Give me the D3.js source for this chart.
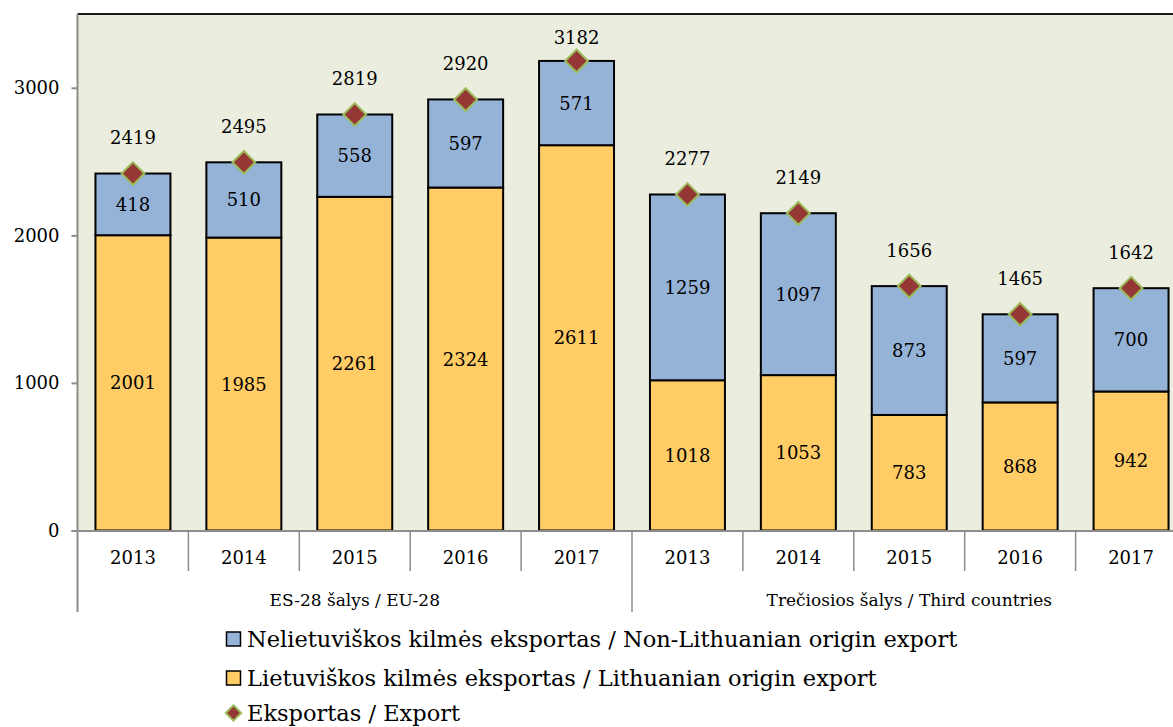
<!DOCTYPE html>
<html lang="lt">
<head>
    <meta charset="UTF-8">
    <title>Eksportas</title>
    <script src="https://d3js.org/d3.v7.min.js"></script>
    <style>
        body {
            margin: 0;
            background-color: #ffffff;
            overflow: hidden;
        }
        svg text {
            font-family: "DejaVu Serif", serif;
            fill: #000000;
        }
    </style>
</head>
<body>
    <div id="chart"></div>

    <script>
        // Duomenys
        const groups = ["ES-28 šalys / EU-28", "Trečiosios šalys / Third countries"];
        const years = ["2013", "2014", "2015", "2016", "2017"];
        const lithuanian = [2001, 1985, 2261, 2324, 2611, 1018, 1053, 783, 868, 942];
        const nonLithuanian = [418, 510, 558, 597, 571, 1259, 1097, 873, 597, 700];
        const totalExport = [2419, 2495, 2819, 2920, 3182, 2277, 2149, 1656, 1465, 1642];
        const yTicks = [0, 1000, 2000, 3000];
        const legendLabels = [
            "Nelietuviškos kilmės eksportas / Non-Lithuanian origin export",
            "Lietuviškos kilmės eksportas / Lithuanian origin export",
            "Eksportas / Export"
        ];

        const width = 1173;
        const height = 727;
        const plotLeft = 77.5;
        const plotRight = 1186.5;
        const plotTop = 14;
        const plotBottom = 530.5;

        const colBlue = "#95b3d7";
        const colOrange = "#ffcc66";
        const colMarker = "#953735";
        const colMarkerEdge = "#9bbb59";
        const colAxis = "#8c8c8c";

        // Kategorijos
        const cats = [];
        groups.forEach((g, gi) => years.forEach((yr) => cats.push({
            key: gi + "-" + yr, group: gi, year: yr
        })));
        const rows = cats.map((c, i) => ({
            ...c,
            lt: lithuanian[i],
            nonLt: nonLithuanian[i],
            total: totalExport[i]
        }));

        const svg = d3.select("#chart")
            .append("svg")
            .attr("width", width)
            .attr("height", height);

        const x = d3.scaleBand()
            .domain(cats.map(d => d.key))
            .range([plotLeft, plotRight])
            .paddingInner(0.324)
            .paddingOuter(0.162);

        const y = d3.scaleLinear()
            .domain([0, 3500])
            .range([plotBottom, plotTop]);

        const step = x.step();

        // Fonas
        svg.append("rect")
            .attr("x", plotLeft)
            .attr("y", plotTop)
            .attr("width", plotRight - plotLeft)
            .attr("height", plotBottom - plotTop)
            .attr("fill", "#ebeedf");

        // Viršutinė riba
        svg.append("line")
            .attr("x1", plotLeft).attr("x2", plotRight)
            .attr("y1", plotTop).attr("y2", plotTop)
            .attr("stroke", "#1a1a1a")
            .attr("stroke-width", 2);

        // Y ašis
        const yAxis = svg.append("g")
            .attr("transform", `translate(${plotLeft},0)`)
            .call(d3.axisLeft(y).tickValues(yTicks).tickSize(6).tickPadding(12).tickFormat(d3.format("d")));
        yAxis.select(".domain").remove();
        yAxis.selectAll(".tick line").attr("stroke", colAxis).attr("stroke-width", 2);
        yAxis.selectAll(".tick text")
            .attr("font-size", "18px")
            .style("font-family", "'DejaVu Serif', serif");

        svg.append("line")
            .attr("x1", plotLeft).attr("x2", plotLeft)
            .attr("y1", plotTop).attr("y2", 612)
            .attr("stroke", colAxis)
            .attr("stroke-width", 2);

        // Stulpeliai
        const stack = d3.stack().keys(["lt", "nonLt"])(rows);
        const colors = { lt: colOrange, nonLt: colBlue };

        stack.forEach(layer => {
            svg.append("g")
                .selectAll("rect")
                .data(layer)
                .enter()
                .append("rect")
                .attr("x", d => x(d.data.key))
                .attr("y", d => y(d[1]))
                .attr("width", x.bandwidth())
                .attr("height", d => y(d[0]) - y(d[1]))
                .attr("fill", colors[layer.key])
                .attr("stroke", "#000000")
                .attr("stroke-width", 2);

            svg.append("g")
                .selectAll("text")
                .data(layer)
                .enter()
                .append("text")
                .attr("x", d => x(d.data.key) + x.bandwidth() / 2)
                .attr("y", d => (y(d[0]) + y(d[1])) / 2)
                .attr("dy", "0.36em")
                .attr("text-anchor", "middle")
                .attr("font-size", "18px")
                .text(d => d.data[layer.key]);
        });

        // X ašis
        svg.append("line")
            .attr("x1", plotLeft - 6).attr("x2", plotRight)
            .attr("y1", plotBottom + 0.5).attr("y2", plotBottom + 0.5)
            .attr("stroke", colAxis)
            .attr("stroke-width", 2);

        svg.append("g")
            .selectAll("line")
            .data(cats.filter((d, i) => i > 0))
            .enter()
            .append("line")
            .attr("x1", d => x(d.key) - step * x.paddingInner() / 2)
            .attr("x2", d => x(d.key) - step * x.paddingInner() / 2)
            .attr("y1", plotBottom)
            .attr("y2", d => d.year === years[0] ? 612 : 571)
            .attr("stroke", colAxis)
            .attr("stroke-width", 1.5);

        svg.append("g")
            .selectAll("text")
            .data(cats)
            .enter()
            .append("text")
            .attr("x", d => x(d.key) + x.bandwidth() / 2)
            .attr("y", 558)
            .attr("dy", "0.36em")
            .attr("text-anchor", "middle")
            .attr("font-size", "18px")
            .text(d => d.year);

        svg.append("g")
            .selectAll("text")
            .data(groups)
            .enter()
            .append("text")
            .attr("x", (d, gi) => {
                const first = x(gi + "-" + years[0]) - step * x.paddingInner() / 2;
                return first + step * years.length / 2;
            })
            .attr("y", 600)
            .attr("dy", "0.36em")
            .attr("text-anchor", "middle")
            .attr("font-size", "17px")
            .text(d => d);

        // Eksporto taškai
        const diamond = d3.symbol().type(d3.symbolDiamond2).size(330);

        svg.append("g")
            .selectAll("path")
            .data(rows)
            .enter()
            .append("path")
            .attr("d", diamond)
            .attr("transform", d => `translate(${x(d.key) + x.bandwidth() / 2},${y(d.total)})`)
            .attr("fill", colMarker)
            .attr("stroke", colMarkerEdge)
            .attr("stroke-width", 2);

        svg.append("g")
            .selectAll("text")
            .data(rows)
            .enter()
            .append("text")
            .attr("x", d => x(d.key) + x.bandwidth() / 2)
            .attr("y", d => Math.max(y(d.total) - 36, plotTop + 24))
            .attr("dy", "0.36em")
            .attr("text-anchor", "middle")
            .attr("font-size", "18px")
            .text(d => d.total);

        // Legenda
        const legend = svg.append("g").attr("transform", "translate(226,0)");
        const legendY = [639, 678, 713];
        const legendFills = [colBlue, colOrange];

        legendLabels.forEach((label, i) => {
            if (i < 2) {
                legend.append("rect")
                    .attr("x", 0.5)
                    .attr("y", legendY[i] - 7)
                    .attr("width", 14)
                    .attr("height", 14)
                    .attr("fill", legendFills[i])
                    .attr("stroke", "#000000")
                    .attr("stroke-width", 1.5);
            } else {
                legend.append("path")
                    .attr("d", d3.symbol().type(d3.symbolDiamond2).size(150)())
                    .attr("transform", `translate(7.5,${legendY[i]})`)
                    .attr("fill", colMarker)
                    .attr("stroke", colMarkerEdge)
                    .attr("stroke-width", 2);
            }
            legend.append("text")
                .attr("x", 21)
                .attr("y", legendY[i])
                .attr("dy", "0.36em")
                .attr("font-size", "22.5px")
                .text(label);
        });
    </script>
</body>
</html>
